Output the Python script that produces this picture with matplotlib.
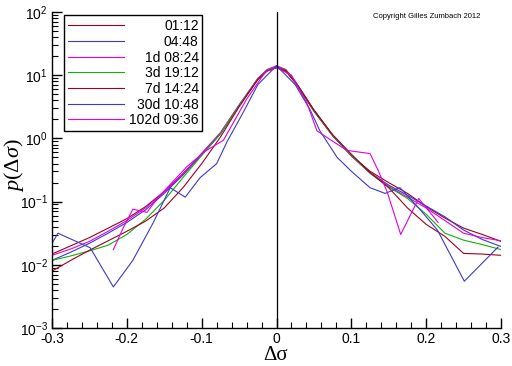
import numpy as np
import matplotlib
matplotlib.use("Agg")
import matplotlib.pyplot as plt
from matplotlib.ticker import FixedLocator, FuncFormatter, LogLocator, NullFormatter

plt.rcParams['font.family'] = ['Liberation Sans', 'DejaVu Sans']
plt.rcParams['axes.unicode_minus'] = False
plt.rcParams['mathtext.fontset'] = 'custom'
plt.rcParams['mathtext.rm'] = 'Liberation Serif'
plt.rcParams['mathtext.it'] = 'Liberation Serif:italic'
plt.rcParams['mathtext.sf'] = 'Liberation Sans'

# ---------------------------------------------------------------------------
# Data: log10 of the density
# ---------------------------------------------------------------------------
labels = ["01:12", "04:48", "1d 08:24", "3d 19:12", "7d 14:24", "30d 10:48", "102d 09:36"]
colors = ["#a0001a", "#3a3ac8", "#e000e0", "#10b010", "#a0001a", "#3a3ac8", "#e000e0"]

x_grid = [-0.3, -0.275, -0.25, -0.225, -0.2, -0.175, -0.15, -0.125, -0.1, -0.075,
          -0.05, -0.025, -0.0125, 0.0, 0.0125, 0.025, 0.05, 0.075, 0.1, 0.125,
          0.15, 0.175, 0.2, 0.225, 0.25, 0.275, 0.3]

log_0112 = [-1.83, -1.70, -1.57, -1.42, -1.27, -1.08, -0.84, -0.56, -0.24, 0.08,
            0.52, 0.93, 1.07, 1.12, 1.06, 0.88, 0.43, 0.04, -0.27, -0.52,
            -0.70, -0.87, -1.08, -1.26, -1.42, -1.52, -1.63]
log_0448 = [-1.93, -1.80, -1.66, -1.50, -1.33, -1.13, -0.87, -0.58, -0.26, 0.07,
            0.52, 0.94, 1.08, 1.14, 1.08, 0.90, 0.44, 0.05, -0.27, -0.54,
            -0.74, -0.90, -1.07, -1.24, -1.45, -1.60, -1.71]
log_1d0824 = [-1.85, -1.75, -1.63, -1.47, -1.30, -1.10, -0.85, -0.56, -0.24, 0.09,
              0.53, 0.95, 1.09, 1.15, 1.09, 0.90, 0.45, 0.05, -0.28, -0.55,
              -0.76, -0.93, -1.10, -1.30, -1.50, -1.57, -1.62]
log_3d1912 = [-1.93, -1.86, -1.78, -1.69, -1.52, -1.28, -0.98, -0.62, -0.27, 0.07,
              0.52, 0.94, 1.08, 1.13, 1.08, 0.90, 0.44, 0.05, -0.27, -0.55,
              -0.77, -0.95, -1.20, -1.50, -1.61, -1.68, -1.76]
log_7d1424 = [-2.10, -1.93, -1.77, -1.62, -1.47, -1.31, -1.10, -0.78, -0.40, 0.02,
              0.50, 0.93, 1.07, 1.12, 1.07, 0.90, 0.45, 0.06, -0.25, -0.54,
              -0.78, -1.10, -1.36, -1.55, -1.82, -1.83, -1.85]

x_30d = [-0.3, -0.292, -0.249, -0.218, -0.192, -0.165, -0.142, -0.122, -0.102, -0.08,
         -0.066, -0.045, -0.025, 0.0, 0.025, 0.045, 0.058, 0.081, 0.1, 0.125,
         0.145, 0.165, 0.19, 0.215, 0.251, 0.296]
log_30d = [-1.66, -1.50, -1.73, -2.35, -1.93, -1.34, -0.78, -0.93, -0.62, -0.40,
           -0.05, 0.40, 0.85, 1.15, 0.85, 0.45, 0.12, -0.30, -0.52, -0.78,
           -0.87, -0.78, -1.10, -1.45, -2.26, -1.72]

x_102d = [-0.218, -0.205, -0.192, -0.173, -0.158, -0.146, -0.12, -0.095, -0.071, -0.04,
          -0.015, 0.0, 0.02, 0.041, 0.054, 0.068, 0.094, 0.125, 0.136, 0.148,
          0.166, 0.19, 0.216]
log_102d = [-1.76, -1.42, -1.12, -1.17, -0.93, -0.78, -0.45, -0.20, -0.03, 0.62,
            1.05, 1.12, 1.00, 0.55, 0.12, 0.01, -0.19, -0.24, -0.51, -0.85,
            -1.52, -0.95, -1.33]

series = [
    (x_grid, log_0112),
    (x_grid, log_0448),
    (x_grid, log_1d0824),
    (x_grid, log_3d1912),
    (x_grid, log_7d1424),
    (x_30d, log_30d),
    (x_102d, log_102d),
]

# ---------------------------------------------------------------------------
# Plot
# ---------------------------------------------------------------------------
W, H = 512, 366
fig = plt.figure(figsize=(W / 100, H / 100), dpi=100)
ax = fig.add_axes([52 / W, 38 / H, 449 / W, 316 / H])

for (xs, ls_), lab, col in zip(series, labels, colors):
    ax.plot(xs, 10.0 ** np.array(ls_), color=col, lw=0.8, label=lab)

ax.axvline(0.0, color="black", lw=0.9)

ax.set_yscale("log")
ax.set_xlim(-0.3, 0.3)
ax.set_ylim(1e-3, 1e2)

ax.spines["top"].set_visible(False)
ax.spines["right"].set_visible(False)
for s in ("left", "bottom"):
    ax.spines[s].set_linewidth(1.0)

ax.xaxis.set_major_locator(FixedLocator([-0.3, -0.2, -0.1, 0.0, 0.1, 0.2, 0.3]))
ax.xaxis.set_minor_locator(FixedLocator(np.arange(-0.3, 0.301, 0.02)))
ax.xaxis.set_major_formatter(FuncFormatter(lambda v, p: "0" if abs(v) < 1e-9 else "%.1f" % v))
ax.yaxis.set_major_locator(LogLocator(base=10, numticks=10))
ax.yaxis.set_minor_locator(LogLocator(base=10, subs=np.arange(2, 10), numticks=20))
ax.yaxis.set_minor_formatter(NullFormatter())
ax.yaxis.set_major_formatter(FuncFormatter(lambda v, p: r"$\mathsf{10^{%d}}$" % round(np.log10(v))))

ax.tick_params(which="both", direction="in", color="black", labelsize=10, pad=3)
ax.tick_params(which="major", length=7, width=1.0)
ax.tick_params(which="minor", length=4, width=0.8)

# legend: labels right-aligned inside the box (hidden legend texts keep the size)
leg = ax.legend(loc="upper left", bbox_to_anchor=(0.027, 0.99), borderaxespad=0,
                fancybox=False, framealpha=1, edgecolor="black", fontsize=10,
                handlelength=4.0, handletextpad=0.3, labelspacing=0.12,
                borderpad=0.3)
leg.get_frame().set_linewidth(1.0)
fig.canvas.draw()
frame_bb = leg.get_frame().get_window_extent()
for t in leg.get_texts():
    bb = t.get_window_extent()
    t.set_alpha(0)
    fig.text((frame_bb.x1 - 3) / W, bb.y0 / H, t.get_text(), ha="right", va="bottom",
             fontsize=10, zorder=10)

fig.text(276 / W, 1 - 355 / H, "Δσ", ha="center", va="center",
         family="Liberation Serif", fontsize=15)
fig.text(14 / W, 1 - 165 / H, r"$p(\Delta\sigma)$", ha="center", va="center",
         rotation=90, fontsize=16)
fig.text(480 / W, 1 - 16 / H, "Copyright Gilles Zumbach 2012", ha="right",
         va="center", fontsize=5.5)

fig.savefig("out.png", dpi=100)
